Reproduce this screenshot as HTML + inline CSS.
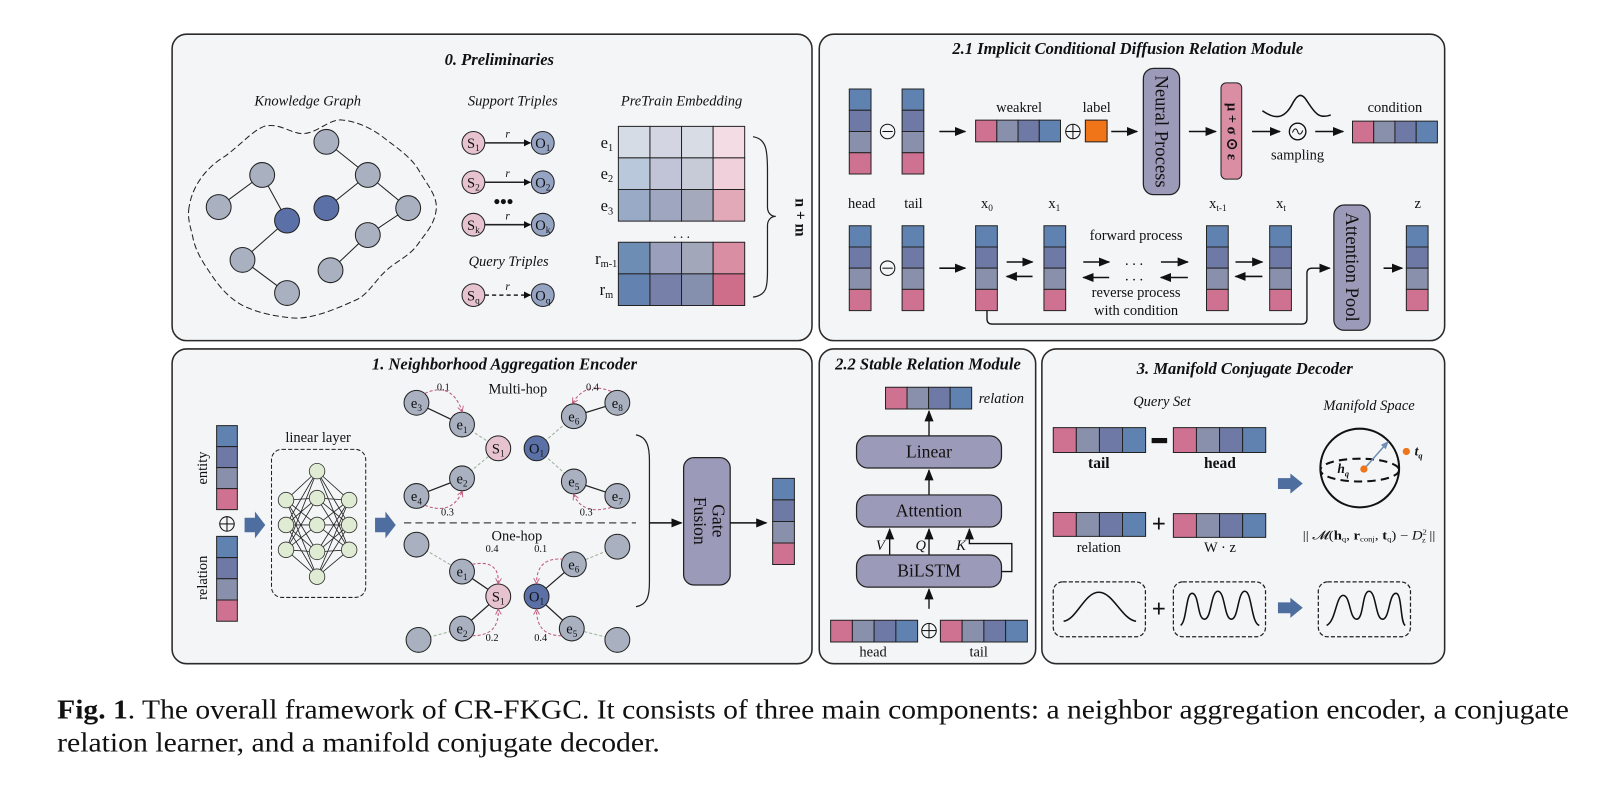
<!DOCTYPE html>
<html><head><meta charset="utf-8"><style>
html,body{margin:0;padding:0;background:#fff}
svg{display:block}
text{font-family:"Liberation Serif",serif;fill:#111}
.t{font-weight:bold;font-style:italic;font-size:16px}
.l{font-size:14px}
.i{font-style:italic;font-size:14px}
.c{stroke:#222;stroke-width:1;vector-effect:non-scaling-stroke}
</style></head><body>
<svg width="1624" height="789" viewBox="0 0 1568 762" xmlns="http://www.w3.org/2000/svg">
<defs>
<marker id="ar" viewBox="0 0 10 10" refX="9" refY="5" markerWidth="7" markerHeight="7" orient="auto-start-reverse" markerUnits="userSpaceOnUse"><path d="M0,0L10,5L0,10z" fill="#111"/></marker>
<marker id="ar2" viewBox="0 0 10 10" refX="9" refY="5" markerWidth="11" markerHeight="11" orient="auto" markerUnits="userSpaceOnUse"><path d="M0,1L10,5L0,9z" fill="#111"/></marker>
<marker id="rr" viewBox="0 0 10 10" refX="8" refY="5" markerWidth="6" markerHeight="6" orient="auto" markerUnits="userSpaceOnUse"><path d="M0,0L9,5L0,10" fill="none" stroke="#c0587a" stroke-width="1.5"/></marker>
<marker id="ba" viewBox="0 0 10 10" refX="8" refY="5" markerWidth="8" markerHeight="8" orient="auto" markerUnits="userSpaceOnUse"><path d="M0,1L10,5L0,9z" fill="#6f8fb5"/></marker>
<g id="vv"><rect class="c" x="0" y="0" width="1" height="1" fill="#5f82b0"/><rect class="c" x="0" y="1" width="1" height="1" fill="#6e79a5"/><rect class="c" x="0" y="2" width="1" height="1" fill="#8890ab"/><rect class="c" x="0" y="3" width="1" height="1" fill="#cf7190"/></g>
<g id="hv"><rect class="c" x="0" y="0" width="1" height="1" fill="#cf7190"/><rect class="c" x="1" y="0" width="1" height="1" fill="#8890ab"/><rect class="c" x="2" y="0" width="1" height="1" fill="#6e79a5"/><rect class="c" x="3" y="0" width="1" height="1" fill="#5f82b0"/></g>
<g id="blk"><path d="M0,-7H10V-13L20,0L10,13V7H0z" fill="#4f6ea0"/></g>
</defs>

<g fill="#f4f5f7" stroke="#2a2a2a" stroke-width="1.5">
<rect x="166" y="33" width="618" height="296" rx="14"/>
<rect x="791" y="33" width="604" height="296" rx="14"/>
<rect x="166" y="337" width="618" height="304" rx="14"/>
<rect x="791" y="337" width="209" height="304" rx="14"/>
<rect x="1006" y="337" width="389" height="304" rx="14"/>
</g>

<!-- ===== P0 ===== -->
<text class="t" x="482" y="63" text-anchor="middle">0. Preliminaries</text>
<text class="i" x="297" y="102" text-anchor="middle" font-size="15">Knowledge Graph</text>
<text class="i" x="495" y="102" text-anchor="middle" font-size="15">Support Triples</text>
<text class="i" x="658" y="102" text-anchor="middle" font-size="15">PreTrain Embedding</text>
<path d="M182,203 C185,175 205,158 217,151 C232,140 244,126 255,122 C270,118 282,130 293,129 C308,128 318,114 331,116 C348,118 362,126 373,135 C388,146 398,154 404,164 C412,178 423,190 421,203 C419,218 410,226 404,235 C396,247 383,252 373,261 C362,271 355,285 343,290 C325,298 300,309 281,307 C262,305 250,302 236,296 C220,288 210,275 201,261 C194,251 188,240 186,229 C184,220 181,212 182,203Z" fill="none" stroke="#222" stroke-width="1" stroke-dasharray="6,3"/>
<g stroke="#222" stroke-width="1">
<line x1="253" y1="169" x2="211" y2="200"/><line x1="253" y1="169" x2="277" y2="213"/><line x1="277" y1="213" x2="234" y2="251"/><line x1="234" y1="251" x2="277" y2="283"/>
<line x1="315" y1="137" x2="355" y2="169"/><line x1="355" y1="169" x2="315" y2="201"/><line x1="355" y1="169" x2="394" y2="201"/><line x1="394" y1="201" x2="355" y2="227"/><line x1="355" y1="227" x2="319" y2="261"/>
</g>
<g stroke="#222" stroke-width="1" fill="#a9b1c1">
<circle cx="315" cy="137" r="12"/><circle cx="253" cy="169" r="12"/><circle cx="355" cy="169" r="12"/><circle cx="211" cy="200" r="12"/><circle cx="394" cy="201" r="12"/><circle cx="355" cy="227" r="12"/><circle cx="234" cy="251" r="12"/><circle cx="319" cy="261" r="12"/><circle cx="277" cy="283" r="12"/>
<circle cx="277" cy="213" r="12" fill="#5a70a6"/><circle cx="315" cy="201" r="12" fill="#5a70a6"/>
</g>
<g stroke="#222" stroke-width="1">
<circle cx="457" cy="138" r="11" fill="#e6c3cf"/><circle cx="524" cy="138" r="11" fill="#96a4c3"/>
<circle cx="457" cy="176" r="11" fill="#e6c3cf"/><circle cx="524" cy="176" r="11" fill="#96a4c3"/>
<circle cx="457" cy="217" r="11" fill="#e6c3cf"/><circle cx="524" cy="217" r="11" fill="#96a4c3"/>
<circle cx="457" cy="285" r="11" fill="#e6c3cf"/><circle cx="524" cy="285" r="11" fill="#96a4c3"/>
<line x1="468" y1="138" x2="512" y2="138" stroke-width="1.5" marker-end="url(#ar)"/>
<line x1="468" y1="176" x2="512" y2="176" stroke-width="1.5" marker-end="url(#ar)"/>
<line x1="468" y1="217" x2="512" y2="217" stroke-width="1.5" marker-end="url(#ar)"/>
<line x1="468" y1="285" x2="512" y2="285" stroke-width="1.5" stroke-dasharray="4,3" marker-end="url(#ar)"/>
</g>
<g font-size="14" text-anchor="middle">
<text x="457" y="143">S<tspan font-size="9" dy="3">1</tspan></text><text x="524" y="143">O<tspan font-size="9" dy="3">1</tspan></text>
<text x="457" y="181">S<tspan font-size="9" dy="3">2</tspan></text><text x="524" y="181">O<tspan font-size="9" dy="3">2</tspan></text>
<text x="457" y="222">S<tspan font-size="9" dy="3">k</tspan></text><text x="524" y="222">O<tspan font-size="9" dy="3">k</tspan></text>
<text x="457" y="290">S<tspan font-size="9" dy="3">q</tspan></text><text x="524" y="290">O<tspan font-size="9" dy="3">q</tspan></text>
</g>
<g class="i" font-size="11" text-anchor="middle"><text x="490" y="133" font-size="11">r</text><text x="490" y="171" font-size="11">r</text><text x="490" y="212" font-size="11">r</text><text x="490" y="280" font-size="11">r</text></g>
<text x="486" y="201" font-size="18" font-weight="bold" text-anchor="middle">•••</text>
<text class="i" x="491" y="257" text-anchor="middle" font-size="15">Query Triples</text>
<g>
<rect x="597" y="122" width="30.5" height="30.5" fill="#d5dce6" class="c"/><rect x="627.5" y="122" width="30.5" height="30.5" fill="#d3d6e2" class="c"/><rect x="658" y="122" width="30.5" height="30.5" fill="#d8dce5" class="c"/><rect x="688.5" y="122" width="30.5" height="30.5" fill="#f3dce4" class="c"/>
<rect x="597" y="152.5" width="30.5" height="30.5" fill="#b9c8da" class="c"/><rect x="627.5" y="152.5" width="30.5" height="30.5" fill="#c0c4d6" class="c"/><rect x="658" y="152.5" width="30.5" height="30.5" fill="#c7cbd8" class="c"/><rect x="688.5" y="152.5" width="30.5" height="30.5" fill="#efd0db" class="c"/>
<rect x="597" y="183" width="30.5" height="30.5" fill="#98aac6" class="c"/><rect x="627.5" y="183" width="30.5" height="30.5" fill="#9ea6c0" class="c"/><rect x="658" y="183" width="30.5" height="30.5" fill="#a4a9bc" class="c"/><rect x="688.5" y="183" width="30.5" height="30.5" fill="#e2aab9" class="c"/>
<rect x="597" y="234" width="30.5" height="30.5" fill="#6e8db5" class="c"/><rect x="627.5" y="234" width="30.5" height="30.5" fill="#9aa0bc" class="c"/><rect x="658" y="234" width="30.5" height="30.5" fill="#a2a8ba" class="c"/><rect x="688.5" y="234" width="30.5" height="30.5" fill="#d98ea4" class="c"/>
<rect x="597" y="264.5" width="30.5" height="30.5" fill="#6482b0" class="c"/><rect x="627.5" y="264.5" width="30.5" height="30.5" fill="#7680a8" class="c"/><rect x="658" y="264.5" width="30.5" height="30.5" fill="#8590ae" class="c"/><rect x="688.5" y="264.5" width="30.5" height="30.5" fill="#cf6e8a" class="c"/>
</g>
<g font-size="16" text-anchor="end">
<text x="592" y="143">e<tspan font-size="10" dy="3">1</tspan></text>
<text x="592" y="173">e<tspan font-size="10" dy="3">2</tspan></text>
<text x="592" y="204">e<tspan font-size="10" dy="3">3</tspan></text>
<text x="596" y="255">r<tspan font-size="10" dy="3">m-1</tspan></text>
<text x="592" y="285">r<tspan font-size="10" dy="3">m</tspan></text>
</g>
<text x="658" y="230" font-size="13" text-anchor="middle">. . .</text>
<path d="M727,132 C740,134 741,145 741,165 L741,200 C741,205 744,209 749,209 C744,209 741,213 741,218 L741,262 C741,278 740,285 727,287" fill="none" stroke="#222" stroke-width="1.2"/>
<text x="768" y="210" font-size="15" font-weight="bold" text-anchor="middle" transform="rotate(90 768 210)">n + m</text>

<!-- ===== P2.1 ===== -->
<text class="t" x="1089" y="52" text-anchor="middle">2.1 Implicit Conditional Diffusion Relation Module</text>
<use href="#vv" transform="translate(820,86) scale(21,20.5)"/>
<use href="#vv" transform="translate(871,86) scale(21,20.5)"/>
<circle cx="857" cy="127" r="7" fill="none" stroke="#111"/><line x1="852" y1="127" x2="862" y2="127" stroke="#111"/>
<line x1="907" y1="127" x2="932" y2="127" stroke="#111" stroke-width="1.5" marker-end="url(#ar2)"/>
<use href="#hv" transform="translate(942,116) scale(20.5,21)"/>
<text class="l" x="984" y="108" text-anchor="middle" font-size="15">weakrel</text>
<circle cx="1036" cy="127" r="7" fill="none" stroke="#111"/><line x1="1029" y1="127" x2="1043" y2="127" stroke="#111"/><line x1="1036" y1="120" x2="1036" y2="134" stroke="#111"/>
<rect x="1048" y="116" width="21" height="21" fill="#f07518" stroke="#222"/>
<text class="l" x="1059" y="108" text-anchor="middle" font-size="15">label</text>
<line x1="1073" y1="127" x2="1098" y2="127" stroke="#111" stroke-width="1.5" marker-end="url(#ar2)"/>
<rect x="1104" y="66" width="35" height="122" rx="10" fill="#9b9ab9" stroke="#222" stroke-width="1.2"/>
<text x="1121" y="127" font-size="18" text-anchor="middle" dominant-baseline="central" transform="rotate(90 1121 127)">Neural Process</text>
<line x1="1148" y1="127" x2="1174" y2="127" stroke="#111" stroke-width="1.5" marker-end="url(#ar2)"/>
<rect x="1179" y="80" width="20" height="93" rx="5" fill="#d98ea4" stroke="#222"/>
<text x="1189" y="127" font-size="14" font-weight="bold" text-anchor="middle" dominant-baseline="central" transform="rotate(90 1189 127)">μ + σ ⊙ ε</text>
<line x1="1209" y1="127" x2="1236" y2="127" stroke="#111" stroke-width="1.5" marker-end="url(#ar2)"/>
<path d="M1219,107 C1232,116 1240,114 1247,102 C1252,92 1256,89 1261,96 C1268,106 1272,116 1285,111" fill="none" stroke="#111" stroke-width="1.5"/>
<circle cx="1253" cy="127" r="8" fill="none" stroke="#111" stroke-width="1.3"/><path d="M1248,128 C1250,123 1252,124 1253,127 C1254,130 1256,131 1258,126" fill="none" stroke="#111"/>
<line x1="1270" y1="127" x2="1297" y2="127" stroke="#111" stroke-width="1.5" marker-end="url(#ar2)"/>
<text class="l" x="1253" y="154" text-anchor="middle" font-size="15">sampling</text>
<use href="#hv" transform="translate(1306,117) scale(20.5,21)"/>
<text class="l" x="1347" y="108" text-anchor="middle" font-size="15">condition</text>
<g class="l" text-anchor="middle" font-size="14">
<text x="832" y="201">head</text><text x="882" y="201">tail</text>
<text x="953" y="201">x<tspan font-size="9" dy="3">0</tspan></text><text x="1018" y="201">x<tspan font-size="9" dy="3">1</tspan></text>
<text x="1176" y="201">x<tspan font-size="9" dy="3">t-1</tspan></text><text x="1237" y="201">x<tspan font-size="9" dy="3">t</tspan></text>
<text x="1369" y="201">z</text>
</g>
<use href="#vv" transform="translate(820,218) scale(21,20.5)"/>
<use href="#vv" transform="translate(871,218) scale(21,20.5)"/>
<circle cx="857" cy="259" r="7" fill="none" stroke="#111"/><line x1="852" y1="259" x2="862" y2="259" stroke="#111"/>
<line x1="907" y1="259" x2="932" y2="259" stroke="#111" stroke-width="1.5" marker-end="url(#ar2)"/>
<use href="#vv" transform="translate(942,218) scale(21,20.5)"/>
<use href="#vv" transform="translate(1008,218) scale(21,20.5)"/>
<use href="#vv" transform="translate(1165,218) scale(21,20.5)"/>
<use href="#vv" transform="translate(1226,218) scale(21,20.5)"/>
<use href="#vv" transform="translate(1358,218) scale(21,20.5)"/>
<g stroke="#111" stroke-width="1.5">
<line x1="972" y1="253" x2="997" y2="253" marker-end="url(#ar2)"/><line x1="997" y1="267" x2="972" y2="267" marker-end="url(#ar2)"/>
<line x1="1046" y1="253" x2="1071" y2="253" marker-end="url(#ar2)"/><line x1="1071" y1="268" x2="1046" y2="268" marker-end="url(#ar2)"/>
<line x1="1121" y1="253" x2="1147" y2="253" marker-end="url(#ar2)"/><line x1="1147" y1="268" x2="1121" y2="268" marker-end="url(#ar2)"/>
<line x1="1193" y1="253" x2="1219" y2="253" marker-end="url(#ar2)"/><line x1="1219" y1="267" x2="1193" y2="267" marker-end="url(#ar2)"/>
<line x1="1336" y1="259" x2="1354" y2="259" marker-end="url(#ar2)"/>
</g>
<text x="1095" y="256" font-size="14" text-anchor="middle">. . .</text><text x="1095" y="271" font-size="14" text-anchor="middle">. . .</text>
<text class="l" x="1097" y="232" text-anchor="middle" font-size="15">forward process</text>
<text class="l" x="1097" y="287" text-anchor="middle" font-size="15">reverse process</text>
<text class="l" x="1097" y="304" text-anchor="middle" font-size="15">with condition</text>
<path d="M953,300 V308 Q953,313 958,313 H1257 Q1262,313 1262,308 V264 Q1262,259 1267,259 H1284" fill="none" stroke="#111" stroke-width="1.3" marker-end="url(#ar2)"/>
<rect x="1288" y="198" width="35" height="121" rx="10" fill="#9b9ab9" stroke="#222" stroke-width="1.2"/>
<text x="1305" y="258" font-size="18" text-anchor="middle" dominant-baseline="central" transform="rotate(90 1305 258)">Attention Pool</text>

<!-- ===== P1 ===== -->
<text class="t" x="487" y="357" text-anchor="middle">1. Neighborhood Aggregation Encoder</text>
<use href="#vv" transform="translate(209,411) scale(20,20.3)"/>
<use href="#vv" transform="translate(209,518) scale(20,20.5)"/>
<text class="l" x="196" y="452" font-size="15" text-anchor="middle" transform="rotate(-90 196 452)" dominant-baseline="central">entity</text>
<text class="l" x="196" y="558" font-size="15" text-anchor="middle" transform="rotate(-90 196 558)" dominant-baseline="central">relation</text>
<circle cx="219" cy="506" r="7" fill="none" stroke="#111"/><line x1="212" y1="506" x2="226" y2="506" stroke="#111"/><line x1="219" y1="499" x2="219" y2="513" stroke="#111"/>
<use href="#blk" transform="translate(236,507)"/>
<rect x="262" y="434" width="91" height="143" rx="10" fill="none" stroke="#222" stroke-dasharray="4,2"/>
<text class="l" x="307" y="427" text-anchor="middle" font-size="15">linear layer</text>
<g stroke="#222" stroke-width="0.8">
<path d="M276,483L306,455M276,483L306,481M276,483L306,507M276,483L306,533M276,483L306,557M276,507L306,455M276,507L306,481M276,507L306,507M276,507L306,533M276,507L306,557M276,531L306,455M276,531L306,481M276,531L306,507M276,531L306,533M276,531L306,557"/>
<path d="M337,483L306,455M337,483L306,481M337,483L306,507M337,483L306,533M337,483L306,557M337,507L306,455M337,507L306,481M337,507L306,507M337,507L306,533M337,507L306,557M337,531L306,455M337,531L306,481M337,531L306,507M337,531L306,533M337,531L306,557"/>
</g>
<g fill="#dfebd2" stroke="#333" stroke-width="0.8">
<circle cx="276" cy="483" r="7.5"/><circle cx="276" cy="507" r="7.5"/><circle cx="276" cy="531" r="7.5"/>
<circle cx="306" cy="455" r="7.5"/><circle cx="306" cy="481" r="7.5"/><circle cx="306" cy="507" r="7.5"/><circle cx="306" cy="533" r="7.5"/><circle cx="306" cy="557" r="7.5"/>
<circle cx="337" cy="483" r="7.5"/><circle cx="337" cy="507" r="7.5"/><circle cx="337" cy="531" r="7.5"/>
</g>
<use href="#blk" transform="translate(362,507)"/>
<line x1="390" y1="505" x2="614" y2="505" stroke="#444" stroke-width="1.2" stroke-dasharray="7,4"/>
<text class="l" x="500" y="380" text-anchor="middle" font-size="15">Multi-hop</text>
<text class="l" x="499" y="522" text-anchor="middle" font-size="15">One-hop</text>
<g stroke="#222" stroke-width="1.2">
<line x1="402" y1="389" x2="446" y2="410"/><line x1="402" y1="479" x2="446" y2="462"/><line x1="554" y1="402" x2="596" y2="389"/><line x1="554" y1="465" x2="596" y2="479"/>
<line x1="446" y1="552" x2="481" y2="576"/><line x1="446" y1="607" x2="481" y2="576"/><line x1="554" y1="545" x2="518" y2="576"/><line x1="552" y1="607" x2="518" y2="576"/>
</g>
<g stroke="#9bb29a" stroke-width="1" stroke-dasharray="3,2">
<line x1="446" y1="410" x2="481" y2="433"/><line x1="446" y1="462" x2="481" y2="433"/><line x1="518" y1="433" x2="554" y2="402"/><line x1="518" y1="433" x2="554" y2="465"/>
<line x1="402" y1="526" x2="446" y2="552"/><line x1="404" y1="618" x2="446" y2="607"/><line x1="596" y1="528" x2="554" y2="545"/><line x1="596" y1="618" x2="552" y2="607"/>
</g>
<g stroke="#222" stroke-width="1" fill="#a9b1c1">
<circle cx="402" cy="389" r="12"/><circle cx="446" cy="410" r="12"/><circle cx="446" cy="462" r="12"/><circle cx="402" cy="479" r="12"/>
<circle cx="554" cy="402" r="12"/><circle cx="596" cy="389" r="12"/><circle cx="554" cy="465" r="12"/><circle cx="596" cy="479" r="12"/>
<circle cx="402" cy="526" r="12"/><circle cx="446" cy="552" r="12"/><circle cx="446" cy="607" r="12"/><circle cx="404" cy="618" r="12"/>
<circle cx="554" cy="545" r="12"/><circle cx="596" cy="528" r="12"/><circle cx="552" cy="607" r="12"/><circle cx="596" cy="618" r="12"/>
<circle cx="481" cy="433" r="12" fill="#e6c3cf"/><circle cx="518" cy="433" r="12" fill="#5a70a6"/>
<circle cx="481" cy="576" r="12" fill="#e6c3cf"/><circle cx="518" cy="576" r="12" fill="#5a70a6"/>
</g>
<g font-size="14" text-anchor="middle">
<text x="402" y="394">e<tspan font-size="9" dy="3">3</tspan></text><text x="446" y="415">e<tspan font-size="9" dy="3">1</tspan></text><text x="446" y="467">e<tspan font-size="9" dy="3">2</tspan></text><text x="402" y="484">e<tspan font-size="9" dy="3">4</tspan></text>
<text x="554" y="407">e<tspan font-size="9" dy="3">6</tspan></text><text x="596" y="394">e<tspan font-size="9" dy="3">8</tspan></text><text x="554" y="470">e<tspan font-size="9" dy="3">5</tspan></text><text x="596" y="484">e<tspan font-size="9" dy="3">7</tspan></text>
<text x="481" y="438">S<tspan font-size="9" dy="3">1</tspan></text><text x="518" y="438">O<tspan font-size="9" dy="3">1</tspan></text>
<text x="446" y="557">e<tspan font-size="9" dy="3">1</tspan></text><text x="446" y="612">e<tspan font-size="9" dy="3">2</tspan></text><text x="554" y="550">e<tspan font-size="9" dy="3">6</tspan></text><text x="552" y="612">e<tspan font-size="9" dy="3">5</tspan></text>
<text x="481" y="581">S<tspan font-size="9" dy="3">1</tspan></text><text x="518" y="581">O<tspan font-size="9" dy="3">1</tspan></text>
</g>
<g fill="none" stroke="#c0587a" stroke-width="1" stroke-dasharray="3,2">
<path d="M410,380 Q436,368 446,397" marker-end="url(#rr)"/>
<path d="M410,488 Q436,498 446,475" marker-end="url(#rr)"/>
<path d="M590,378 Q566,368 553,389" marker-end="url(#rr)"/>
<path d="M590,490 Q563,498 554,478" marker-end="url(#rr)"/>
<path d="M456,545 Q482,540 481,563" marker-end="url(#rr)"/>
<path d="M456,614 Q482,614 481,589" marker-end="url(#rr)"/>
<path d="M544,540 Q518,538 518,563" marker-end="url(#rr)"/>
<path d="M542,614 Q518,614 518,589" marker-end="url(#rr)"/>
</g>
<g font-size="10" text-anchor="middle">
<text x="428" y="377">0.1</text><text x="432" y="498">0.3</text><text x="572" y="377">0.4</text><text x="566" y="498">0.3</text>
<text x="475" y="533">0.4</text><text x="475" y="619">0.2</text><text x="522" y="533">0.1</text><text x="522" y="619">0.4</text>
</g>
<path d="M614,420 C625,422 627,432 627,445 L627,562 C627,576 625,584 614,586" fill="none" stroke="#222" stroke-width="1.2"/>
<line x1="627" y1="505" x2="658" y2="505" stroke="#111" stroke-width="1.5" marker-end="url(#ar2)"/>
<rect x="660" y="442" width="45" height="123" rx="10" fill="#9b9ab9" stroke="#222" stroke-width="1.2"/>
<g transform="rotate(90 682 503)"><text x="682" y="497" font-size="17" text-anchor="middle">Gate</text><text x="682" y="515" font-size="17" text-anchor="middle">Fusion</text></g>
<line x1="705" y1="505" x2="740" y2="505" stroke="#111" stroke-width="1.5" marker-end="url(#ar2)"/>
<use href="#vv" transform="translate(746,462) scale(21,20.8)"/>

<!-- ===== P2.2 ===== -->
<text class="t" x="896" y="357" text-anchor="middle">2.2 Stable Relation Module</text>
<use href="#hv" transform="translate(855,374) scale(20.8,21)"/>
<text class="i" x="945" y="389" font-size="15">relation</text>
<g stroke="#111" stroke-width="1.3">
<line x1="897" y1="421" x2="897" y2="397" marker-end="url(#ar2)"/>
<line x1="897" y1="478" x2="897" y2="454" marker-end="url(#ar2)"/>
<line x1="859" y1="536" x2="859" y2="511" marker-end="url(#ar2)"/>
<line x1="897" y1="536" x2="897" y2="511" marker-end="url(#ar2)"/>
<path d="M967,552 H977 V525 H936 V511" fill="none" marker-end="url(#ar2)"/>
<line x1="897" y1="588" x2="897" y2="569" marker-end="url(#ar2)"/>
</g>
<g fill="#9b9ab9" stroke="#222" stroke-width="1.2">
<rect x="827" y="421" width="140" height="31" rx="11"/><rect x="827" y="478" width="140" height="31" rx="11"/><rect x="827" y="536" width="140" height="31" rx="11"/>
</g>
<g font-size="17" text-anchor="middle"><text x="897" y="442">Linear</text><text x="897" y="499">Attention</text><text x="897" y="557">BiLSTM</text></g>
<g class="i" font-size="14" text-anchor="middle"><text x="850" y="531">V</text><text x="889" y="531">Q</text><text x="928" y="531">K</text></g>
<use href="#hv" transform="translate(802,599) scale(21,21)"/>
<circle cx="897" cy="609" r="7" fill="none" stroke="#111"/><line x1="890" y1="609" x2="904" y2="609" stroke="#111"/><line x1="897" y1="602" x2="897" y2="616" stroke="#111"/>
<use href="#hv" transform="translate(908,599) scale(21,21)"/>
<text class="l" x="843" y="634" text-anchor="middle">head</text><text class="l" x="945" y="634" text-anchor="middle">tail</text>

<!-- ===== P3 ===== -->
<text class="t" x="1202" y="361" text-anchor="middle">3. Manifold Conjugate Decoder</text>
<text class="i" x="1122" y="392" text-anchor="middle" font-size="15">Query Set</text>
<text class="i" x="1322" y="396" text-anchor="middle" font-size="15">Manifold Space</text>
<use href="#hv" transform="translate(1017,413) scale(22.3,24)"/>
<use href="#hv" transform="translate(1133,413) scale(22.3,24)"/>
<rect x="1112" y="423" width="15" height="5" fill="#111"/>
<text x="1061" y="452" font-size="15" font-weight="bold" text-anchor="middle">tail</text>
<text x="1178" y="452" font-size="15" font-weight="bold" text-anchor="middle">head</text>
<use href="#hv" transform="translate(1017,495) scale(22.3,23)"/>
<use href="#hv" transform="translate(1133,496) scale(22.3,23)"/>
<text x="1119" y="514" font-size="24" font-weight="bold" text-anchor="middle">+</text>
<text class="l" x="1061" y="533" text-anchor="middle" font-size="15">relation</text>
<text class="l" x="1178" y="533" text-anchor="middle" font-size="15">W · z</text>
<use href="#blk" transform="translate(1234,467) scale(1.2,0.75)"/>
<circle cx="1313" cy="452" r="38" fill="none" stroke="#111" stroke-width="2"/>
<ellipse cx="1313" cy="454" rx="38" ry="11" fill="none" stroke="#111" stroke-width="2" stroke-dasharray="8,5"/>
<line x1="1318" y1="452" x2="1340" y2="427" stroke="#6f8fb5" stroke-width="1.5" marker-end="url(#ba)"/>
<circle cx="1317" cy="453" r="3.5" fill="#f07518"/>
<text x="1297" y="457" font-size="13" font-weight="bold" font-style="italic" text-anchor="middle">h<tspan font-size="8" dy="3">q</tspan></text>
<circle cx="1358" cy="436" r="3.5" fill="#f07518"/>
<text x="1366" y="440" font-size="13" font-weight="bold" font-style="italic">t<tspan font-size="8" dy="3">q</tspan></text>
<text x="1322" y="521" font-size="12" fill="#555" text-anchor="middle" textLength="128" lengthAdjust="spacingAndGlyphs">|| 𝓜(<tspan font-weight="bold">h</tspan><tspan font-size="7" dy="2">q</tspan><tspan dy="-2">, </tspan><tspan font-weight="bold">r</tspan><tspan font-size="7" dy="2">conj</tspan><tspan dy="-2">, </tspan><tspan font-weight="bold">t</tspan><tspan font-size="7" dy="2">q</tspan><tspan dy="-2">) − </tspan><tspan font-style="italic">D</tspan><tspan font-size="7" dy="-5">2</tspan><tspan font-size="7" dx="-4" dy="8">z</tspan><tspan dy="-3"> ||</tspan></text>
<g fill="none" stroke="#222" stroke-width="1.2" stroke-dasharray="4,2">
<rect x="1017" y="562" width="89" height="53" rx="9"/><rect x="1133" y="562" width="89" height="53" rx="9"/><rect x="1273" y="562" width="89" height="53" rx="9"/>
</g>
<text x="1119" y="596" font-size="24" font-weight="bold" text-anchor="middle">+</text>
<use href="#blk" transform="translate(1234,587) scale(1.2,0.75)"/>
<g fill="none" stroke="#111" stroke-width="1.5">
<path d="M1027,600 C1040,598 1047,572 1061,572 C1075,572 1083,598 1097,600"/>
<path d="M1140,604 C1146,600 1145,573 1151,573 C1158,573 1156,598 1163,598 C1170,598 1169,571 1176,571 C1183,571 1182,598 1189,598 C1196,598 1195,571 1202,571 C1209,571 1208,602 1216,604"/>
<path d="M1281,604 C1290,600 1290,575 1297,575 C1304,575 1303,598 1310,598 C1317,598 1315,571 1322,571 C1329,571 1328,598 1335,598 C1342,598 1341,573 1348,573 C1354,573 1352,602 1357,604"/>
</g>

<!-- caption -->
<text x="55" y="694" font-size="26.5" textLength="1460" lengthAdjust="spacingAndGlyphs"><tspan font-weight="bold">Fig. 1</tspan>.  The overall framework of CR-FKGC. It consists of three main components:  a neighbor aggregation encoder, a conjugate</text>
<text x="55" y="726" font-size="26.5" textLength="582" lengthAdjust="spacingAndGlyphs">relation learner, and a manifold conjugate decoder.</text>
</svg>
</body></html>
